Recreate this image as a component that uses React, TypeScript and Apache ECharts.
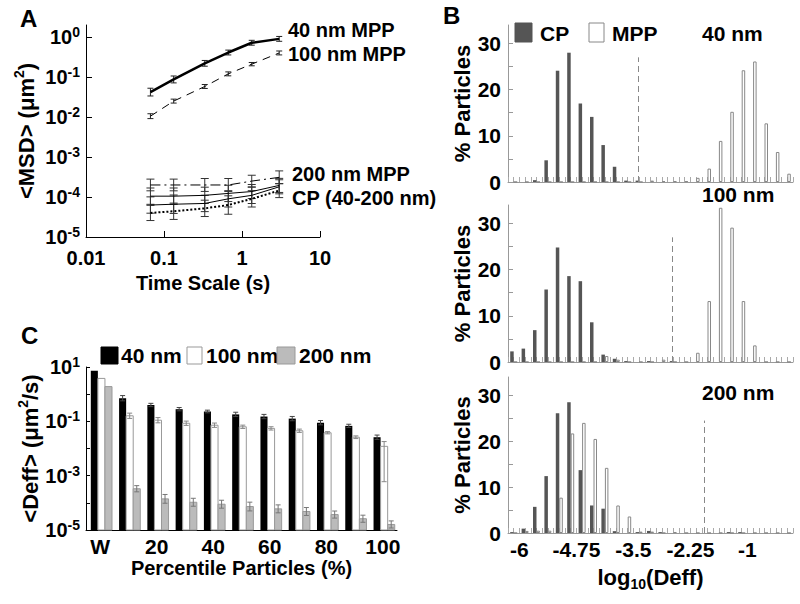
import React, { useEffect, useRef } from 'react';
import * as echarts from 'echarts';

const FONT = '"Liberation Sans", Arial, Helvetica, sans-serif';

// ---------- Panel A : <MSD> vs time scale ----------
const timeScale = [0.067, 0.133, 0.333, 0.667, 1.333, 3];
const msdMPP40 = [0.042, 0.087, 0.22, 0.41, 0.72, 0.9];
const msdMPP100 = [0.0105, 0.025, 0.058, 0.12, 0.21, 0.4];
const msdMPP200 = [2.0e-4, 2.0e-4, 2.0e-4, 2.0e-4, 2.5e-4, 3.1e-4];
const msdCP40 = [1.05e-4, 1.05e-4, 1.1e-4, 1.23e-4, 1.37e-4, 1.95e-4];
const msdCP100 = [6.3e-5, 6.6e-5, 6.9e-5, 9.0e-5, 1.1e-4, 1.8e-4];
const msdCP200 = [4.0e-5, 4.4e-5, 5.2e-5, 6.3e-5, 9.0e-5, 1.45e-4];
// multiplicative error factors (value / f .. value * f)
const errMPP40 = [1.25, 1.22, 1.18, 1.15, 1.15, 1.15];
const errMPP100 = [1.15, 1.12, 1.12, 1.12, 1.1, 1.12];
const errMPP200 = [1.4, 1.4, 1.45, 1.45, 1.4, 1.45];
const errCP40 = [1.6, 1.6, 1.6, 1.6, 1.5, 1.5];
const errCP100 = [1.6, 1.7, 1.6, 1.6, 1.6, 1.5];
const errCP200 = [1.55, 1.6, 1.6, 1.7, 1.6, 1.5];
const msdTicks = [1e-5, 1e-4, 1e-3, 1e-2, 1e-1, 1];
const timeTicks = [0.01, 0.1, 1, 10];
const timeTickLabels = ['0.01', '0.1', '1', '10'];

// ---------- Panel C : <Deff> by percentile ----------
const percentileCats = ['W', '10', '20', '30', '40', '50', '60', '70', '80', '90', '100'];
const deff40 = [7.3, 0.71, 0.4, 0.28, 0.23, 0.18, 0.15, 0.126, 0.089, 0.068, 0.026];
const deff100 = [3.8, 0.16, 0.11, 0.085, 0.072, 0.063, 0.055, 0.045, 0.038, 0.026, 0.012];
const deff200 = [1.9, 3.3e-4, 1.4e-4, 1.05e-4, 8.9e-5, 7.3e-5, 6.0e-5, 4.8e-5, 3.7e-5, 2.6e-5, 1.6e-5];
const deff40Err = [1, 1.25, 1.15, 1.15, 1.12, 1.2, 1.2, 1.2, 1.2, 1.15, 1.2];
const deff100ErrUp = [1, 1.25, 1.25, 1.2, 1.2, 1.15, 1.15, 1.15, 1.1, 1.12, 1.5];
const deff100ErrDown = [1, 1.25, 1.25, 1.2, 1.2, 1.15, 1.15, 1.15, 1.1, 1.12, 20];
const deff200Err = [1, 1.3, 1.45, 1.4, 1.4, 1.45, 1.4, 1.4, 1.35, 1.35, 1.35];
const deffLabelTicks = [1e-5, 1e-3, 1e-1, 10];
const deffTicks = [1e-5, 1e-4, 1e-3, 1e-2, 1e-1, 1, 10];

// ---------- Panel B : histograms of log10(Deff) ----------
const binCenters = [-6.125, -5.875, -5.625, -5.375, -5.125, -4.875, -4.625, -4.375, -4.125, -3.875, -3.625, -3.375, -3.125,
  -2.875, -2.625, -2.375, -2.125, -1.875, -1.625, -1.375, -1.125, -0.875, -0.625, -0.375, -0.125];
const cp40 = [0, 0, 0.4, 4.7, 24.1, 28, 17, 14.1, 8, 3.3, 0.3, 0.3, 0, 0, 0, 0, 0, 0, 0, 0, 0, 0, 0, 0, 0];
const mpp40 = [0, 0, 0, 0, 0, 0, 0, 0, 0, 0, 0, 0, 0.3, 0.2, 0.2, 0.2, 0.9, 2.9, 8.9, 15.2, 24.2, 26.1, 12.7, 6.5, 1.8];
const cp100 = [2.3, 2.9, 6.9, 15.7, 24.8, 18.6, 17.5, 8.6, 1.6, 0.7, 0.2, 0, 0.2, 0, 0.2, 0, 0, 0, 0, 0, 0, 0, 0, 0, 0];
const mpp100 = [0, 0, 0, 0, 0, 0, 0, 0, 1.3, 0.5, 0, 0, 0, 0.5, 0, 0, 2.0, 13.2, 33.4, 29.1, 13.2, 3.6, 0, 0, 0];
const cp200 = [0.2, 0.95, 5.7, 12.4, 26.1, 28.5, 13.7, 6.0, 5.3, 0.4, 0, 0.2, 0.45, 0.2, 0, 0, 0, 0, 0, 0.2, 0.2, 0, 0, 0, 0];
const mpp200 = [0, 0.45, 0.5, 0.5, 7.7, 21.7, 24.0, 20.5, 14.2, 6.0, 3.6, 0.3, 0.3, 0, 0.2, 0, 0, 0, 0, 0, 0, 0, 0, 0, 0];
const cutoffs = [-3.35, -2.6, -1.9];
const cutoffTops = [27, 27, 24.5];
const histLabelTicks = [-6, -4.75, -3.5, -2.25, -1];
const histYLabels = [0, 10, 20, 30];
const histYTicks = [5, 10, 15, 20, 25, 30];

const bold = { fontFamily: FONT, fontWeight: 'bold' as const, color: '#000' };

const powRich = {
  b: { ...bold, fontSize: 20, lineHeight: 24 },
  s: { ...bold, fontSize: 14, lineHeight: 14, verticalAlign: 'top' },
};
const powFmt = (v: number) => `{b|10}{s|${Math.round(Math.log10(v))}}`;

const nameRich = {
  n: { ...bold, fontSize: 22, lineHeight: 28 },
  s: { ...bold, fontSize: 14, lineHeight: 14, verticalAlign: 'top' },
  u: { ...bold, fontSize: 14, lineHeight: 14, verticalAlign: 'bottom' },
};

function errBars(xIdx: number, xs: number[], vals: number[], f: number[], color: string, cap: number) {
  return {
    type: 'custom',
    xAxisIndex: xIdx,
    yAxisIndex: xIdx,
    z: 3,
    data: vals.map((v, i) => [xs[i], v / f[i], v * f[i]]),
    encode: { x: 0, y: [1, 2] },
    renderItem: (_p: any, api: any) => {
      const x = api.value(0);
      const p1 = api.coord([x, api.value(2)]);
      const p2 = api.coord([x, api.value(1)]);
      const st = { stroke: color, lineWidth: 1 };
      return {
        type: 'group',
        children: [
          { type: 'line', shape: { x1: p1[0], y1: p1[1], x2: p2[0], y2: p2[1] }, style: st },
          { type: 'line', shape: { x1: p1[0] - cap, y1: p1[1], x2: p1[0] + cap, y2: p1[1] }, style: st },
          { type: 'line', shape: { x1: p2[0] - cap, y1: p2[1], x2: p2[0] + cap, y2: p2[1] }, style: st },
        ],
      };
    },
  };
}

function deffBars(vals: number[], up: number[], down: number[], slot: number, fill: string, stroke: string, errColor: string) {
  return {
    type: 'custom',
    xAxisIndex: 1,
    yAxisIndex: 1,
    data: vals.map((v, i) => [i, v, v / down[i], v * up[i]]),
    encode: { x: 0, y: 1 },
    renderItem: (_p: any, api: any) => {
      const i = api.value(0);
      const v = api.value(1);
      const lo = api.value(2);
      const hi = api.value(3);
      const band = api.coord([1, 1])[0] - api.coord([0, 1])[0];
      const bw = band * 0.25;
      const c = api.coord([i, v]);
      const base = api.coord([i, 1e-5]);
      const x0 = c[0] + band * 0.045 + (slot - 1.5) * bw;
      const children: any[] = [
        {
          type: 'rect',
          shape: { x: x0, y: c[1], width: bw, height: base[1] - c[1] },
          style: { fill, stroke, lineWidth: stroke === 'none' ? 0 : 1 },
        },
      ];
      if (hi > lo * 1.0001) {
        const xm = x0 + bw / 2;
        const a = api.coord([i, hi]);
        const b = api.coord([i, lo]);
        const st = { stroke: errColor, lineWidth: 1 };
        children.push(
          { type: 'line', shape: { x1: xm, y1: a[1], x2: xm, y2: b[1] }, style: st },
          { type: 'line', shape: { x1: xm - 2.5, y1: a[1], x2: xm + 2.5, y2: a[1] }, style: st },
          { type: 'line', shape: { x1: xm - 2.5, y1: b[1], x2: xm + 2.5, y2: b[1] }, style: st },
        );
      }
      return { type: 'group', children };
    },
  };
}

function histBar(idx: number, vals: number[], color: string, stroke: string | null, cut?: number, cutTop?: number) {
  const s: any = {
    type: 'bar',
    xAxisIndex: idx,
    yAxisIndex: idx,
    data: binCenters.map((c, i) => [c, vals[i]]),
    barWidth: 3.5,
    barGap: '0%',
    itemStyle: { color, borderColor: stroke || color, borderWidth: stroke ? 1 : 0 },
  };
  if (cut !== undefined) {
    s.markLine = {
      silent: true,
      symbol: ['none', 'none'],
      label: { show: false },
      lineStyle: { type: [6, 4], color: '#888', width: 1 },
      data: [[{ coord: [cut, 0] }, { coord: [cut, cutTop] }]],
    };
  }
  return s;
}

const txt = (text: string, x: number, y: number, size: number) => ({
  type: 'text',
  x,
  y,
  style: {
    text,
    fontSize: size,
    fontWeight: 'bold',
    fontFamily: FONT,
    fill: '#000',
    align: 'left',
    verticalAlign: 'middle',
  },
});
const box = (x: number, y: number, w: number, h: number, fill: string, stroke: string) => ({
  type: 'rect',
  shape: { x, y, width: w, height: h },
  style: { fill, stroke, lineWidth: 1 },
});

function buildOption(): any {
  const histGrids = [
    { left: 508, top: 25, width: 285, height: 157 },
    { left: 508, top: 205, width: 285, height: 157 },
    { left: 508, top: 377, width: 285, height: 156 },
  ];
  const histX = [0, 1, 2].map((k) => {
    const tickVals: number[] = [];
    for (let v = -6.25; v <= 0.0001; v += 0.125) tickVals.push(Math.round(v * 1000) / 1000);
    return {
      gridIndex: 2 + k,
      type: 'value',
      min: -6.25,
      max: 0,
      axisLine: { show: true, onZero: false, lineStyle: { color: '#999', width: 1 } },
      axisTick: { show: true, inside: true, length: 5, customValues: tickVals, lineStyle: { color: '#aaa' } },
      axisLabel: {
        show: k === 2,
        customValues: histLabelTicks,
        formatter: (v: number) => String(v),
        ...bold,
        fontSize: 21,
        margin: 6,
      },
      splitLine: { show: false },
      name: k === 2 ? '{n|log}{u|10}{n|(Deff)}' : '',
      nameLocation: 'middle',
      nameGap: 30,
      nameTextStyle: { ...bold, fontSize: 22, rich: nameRich },
    };
  });
  const histY = [0, 1, 2].map((k) => ({
    gridIndex: 2 + k,
    type: 'value',
    min: 0,
    max: 34,
    axisLine: { show: true, onZero: false, lineStyle: { color: '#999', width: 1 } },
    axisTick: { show: true, inside: true, length: 5, customValues: histYTicks, lineStyle: { color: '#999' } },
    axisLabel: { customValues: histYLabels, ...bold, fontSize: 21, margin: 7 },
    splitLine: { show: false },
    name: '% Particles',
    nameLocation: 'middle',
    nameRotate: 90,
    nameGap: 31,
    nameTextStyle: { ...bold, fontSize: 22 },
  }));

  return {
    animation: false,
    backgroundColor: '#fff',
    grid: [
      { left: 86, top: 25, width: 234, height: 212 },
      { left: 86, top: 367, width: 311, height: 163 },
      ...histGrids,
    ],
    xAxis: [
      {
        gridIndex: 0,
        type: 'log',
        logBase: 10,
        min: 0.01,
        max: 10,
        axisLine: { show: true, onZero: false, lineStyle: { color: '#000', width: 1 } },
        axisTick: { show: true, inside: true, length: 6, customValues: timeTicks, lineStyle: { color: '#000' } },
        axisLabel: {
          customValues: timeTicks,
          formatter: (v: number) => {
            const i = timeTicks.findIndex((t) => Math.abs(Math.log10(t) - Math.log10(v)) < 0.01);
            return i >= 0 ? timeTickLabels[i] : '';
          },
          ...bold,
          fontSize: 20,
          margin: 11,
        },
        splitLine: { show: false },
        minorTick: { show: false },
        name: 'Time Scale (s)',
        nameLocation: 'middle',
        nameGap: 36,
        nameTextStyle: { ...bold, fontSize: 20 },
      },
      {
        gridIndex: 1,
        type: 'category',
        data: percentileCats,
        axisLine: { show: true, onZero: false, lineStyle: { color: '#000', width: 1 } },
        axisTick: { show: false },
        axisLabel: { interval: 1, ...bold, fontSize: 21, margin: 6 },
        name: 'Percentile Particles (%)',
        nameLocation: 'middle',
        nameGap: 27,
        nameTextStyle: { ...bold, fontSize: 20 },
      },
      ...histX,
    ],
    yAxis: [
      {
        gridIndex: 0,
        type: 'log',
        logBase: 10,
        min: 1e-5,
        max: 2,
        axisLine: { show: true, onZero: false, lineStyle: { color: '#000', width: 1 } },
        axisTick: { show: true, inside: true, length: 6, customValues: msdTicks, lineStyle: { color: '#000' } },
        axisLabel: { customValues: msdTicks, formatter: powFmt, rich: powRich, margin: 6 },
        splitLine: { show: false },
        minorTick: { show: false },
        name: '{n|<MSD> (μm}{s|2}{n|)}',
        nameLocation: 'middle',
        nameRotate: 90,
        nameGap: 46,
        nameTextStyle: { ...bold, fontSize: 22, rich: nameRich },
      },
      {
        gridIndex: 1,
        type: 'log',
        logBase: 10,
        min: 1e-5,
        max: 10,
        axisLine: { show: true, onZero: false, lineStyle: { color: '#000', width: 1 } },
        axisTick: { show: true, inside: true, length: 4, customValues: deffTicks, lineStyle: { color: '#000' } },
        axisLabel: { customValues: deffLabelTicks, formatter: powFmt, rich: powRich, margin: 6 },
        splitLine: { show: false },
        minorTick: { show: false },
        name: '{n|<Deff> (μm}{s|2}{n|/s)}',
        nameLocation: 'middle',
        nameRotate: 90,
        nameGap: 38,
        nameTextStyle: { ...bold, fontSize: 22, rich: nameRich },
      },
      ...histY,
    ],
    series: [
      // Panel A lines
      {
        name: '40 nm MPP', type: 'line', xAxisIndex: 0, yAxisIndex: 0, symbol: 'none',
        data: timeScale.map((t, i) => [t, msdMPP40[i]]),
        lineStyle: { color: '#000', width: 2.5 },
      },
      {
        name: '100 nm MPP', type: 'line', xAxisIndex: 0, yAxisIndex: 0, symbol: 'none',
        data: timeScale.map((t, i) => [t, msdMPP100[i]]),
        lineStyle: { color: '#000', width: 1, type: [8, 6] },
      },
      {
        name: '200 nm MPP', type: 'line', xAxisIndex: 0, yAxisIndex: 0, symbol: 'none',
        data: timeScale.map((t, i) => [t, msdMPP200[i]]),
        lineStyle: { color: '#000', width: 1, type: [10, 4, 2, 4] },
      },
      {
        name: '40 nm CP', type: 'line', xAxisIndex: 0, yAxisIndex: 0, symbol: 'none',
        data: timeScale.map((t, i) => [t, msdCP40[i]]),
        lineStyle: { color: '#000', width: 1 },
      },
      {
        name: '100 nm CP', type: 'line', xAxisIndex: 0, yAxisIndex: 0, symbol: 'none',
        data: timeScale.map((t, i) => [t, msdCP100[i]]),
        lineStyle: { color: '#000', width: 1 },
      },
      {
        name: '200 nm CP', type: 'line', xAxisIndex: 0, yAxisIndex: 0, symbol: 'none',
        data: timeScale.map((t, i) => [t, msdCP200[i]]),
        lineStyle: { color: '#000', width: 2, type: [2, 2] },
      },
      errBars(0, timeScale, msdMPP40, errMPP40, '#222', 3),
      errBars(0, timeScale, msdMPP100, errMPP100, '#222', 3),
      errBars(0, timeScale, msdMPP200, errMPP200, '#333', 4),
      errBars(0, timeScale, msdCP40, errCP40, '#333', 4),
      errBars(0, timeScale, msdCP100, errCP100, '#333', 4),
      errBars(0, timeScale, msdCP200, errCP200, '#333', 4),
      // Panel C bars
      deffBars(deff40, deff40Err, deff40Err, 0, '#000', 'none', '#444'),
      deffBars(deff100, deff100ErrUp, deff100ErrDown, 1, '#fff', '#999', '#888'),
      deffBars(deff200, deff200Err, deff200Err, 2, '#bbb', '#999', '#777'),
      // Panel B histograms
      histBar(2, cp40, '#555', null, cutoffs[0], cutoffTops[0]),
      histBar(2, mpp40, '#fff', '#888'),
      histBar(3, cp100, '#555', null, cutoffs[1], cutoffTops[1]),
      histBar(3, mpp100, '#fff', '#888'),
      histBar(4, cp200, '#555', null, cutoffs[2], cutoffTops[2]),
      histBar(4, mpp200, '#fff', '#888'),
    ],
    graphic: [
      txt('A', 20, 18, 24),
      txt('B', 443, 15, 24),
      txt('C', 21, 335, 24),
      txt('40 nm MPP', 288, 30, 20),
      txt('100 nm MPP', 288, 54, 20),
      txt('200 nm MPP', 292, 174, 20),
      txt('CP (40-200 nm)', 292, 198, 20),
      // panel B legend and titles
      box(515, 23, 17, 19, '#555', '#555'),
      txt('CP', 540, 33, 21),
      box(589, 23, 15, 19, '#fff', '#888'),
      txt('MPP', 612, 33, 21),
      txt('40 nm', 702, 33, 21),
      txt('100 nm', 702, 194, 21),
      txt('200 nm', 702, 392, 21),
      // panel C legend
      box(101, 347, 17, 17, '#000', '#000'),
      txt('40 nm', 121, 355, 21),
      box(187, 347, 15, 17, '#fff', '#999'),
      txt('100 nm', 206, 355, 21),
      box(277, 347, 18, 17, '#bbb', '#999'),
      txt('200 nm', 299, 355, 21),
    ],
  };
}

export default function App() {
  const ref = useRef<HTMLDivElement>(null);
  useEffect(() => {
    if (!ref.current) return;
    const chart = echarts.init(ref.current, undefined, { renderer: 'svg' });
    chart.setOption(buildOption());
    return () => chart.dispose();
  }, []);
  return (
    <div
      ref={ref}
      style={{ position: 'fixed', left: 0, top: 0, width: 800, height: 604, background: '#fff' }}
    />
  );
}
